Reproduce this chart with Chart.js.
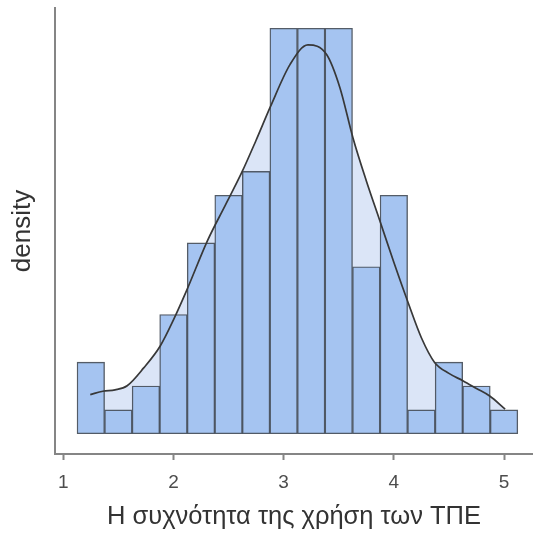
<!DOCTYPE html>
<html>
<head>
<meta charset="utf-8">
<script src="https://cdn.jsdelivr.net/npm/chart.js@4"></script>
<style>
  html, body { margin: 0; padding: 0; background: #fff; overflow: hidden; }
  #wrap { width: 533px; height: 536px; }
</style>
</head>
<body>
<div id="wrap"><canvas id="chart"></canvas></div>
<script>
// histogram bins (centres) and counts per bin
const binCenters = [1.25, 1.5, 1.75, 2.0, 2.25, 2.5, 2.75, 3.0, 3.25, 3.5, 3.75, 4.0, 4.25, 4.5, 4.75, 5.0];
const binCounts = [3, 1, 2, 5, 8, 10, 11, 17, 17, 17, 7, 10, 1, 3, 2, 1];
const binWidth = 0.25;

// kernel density curve
const kdeX = [1.245, 1.36, 1.47, 1.58, 1.73, 1.88, 2.0, 2.12, 2.31, 2.47, 2.62, 2.75, 2.88, 3.06, 3.22, 3.39, 3.51, 3.63, 3.75, 3.87, 4.0, 4.13, 4.25, 4.37, 4.5, 4.63, 4.75, 4.87, 5.01];
const kdeY = [0.057, 0.062, 0.064, 0.070, 0.096, 0.128, 0.166, 0.209, 0.282, 0.333, 0.381, 0.428, 0.477, 0.539, 0.567, 0.553, 0.505, 0.431, 0.369, 0.312, 0.250, 0.191, 0.140, 0.104, 0.088, 0.077, 0.066, 0.055, 0.036];

const xTicks = [1, 2, 3, 4, 5];

const total = binCounts.reduce((a, b) => a + b, 0);
const density = binCounts.map((c) => c / (total * binWidth));
const unit = 1 / (total * binWidth);

const axisColor = "#858585";
const fontFamily = "'Liberation Sans', Arial, sans-serif";

new Chart(document.getElementById("chart"), {
  data: {
    datasets: [
      {
        type: "line",
        label: "kde",
        data: kdeX.map((x, i) => ({ x: x, y: kdeY[i] })),
        borderColor: "#383838",
        borderWidth: 1.7,
        backgroundColor: "#dbe5f7",
        fill: "origin",
        pointRadius: 0,
        cubicInterpolationMode: "monotone",
        order: 0,
      },
      {
        type: "bar",
        label: "count",
        data: binCenters.map((x, i) => ({ x: x, y: density[i] })),
        backgroundColor: "#a5c4f1",
        borderColor: "rgba(65, 74, 86, 0.9)",
        borderWidth: 1.4,
        borderSkipped: false,
        barPercentage: 1,
        categoryPercentage: 1,
        grouped: false,
        order: 1,
      },
    ],
  },
  options: {
    responsive: true,
    maintainAspectRatio: false,
    animation: false,
    layout: { padding: { top: 8, right: 0, bottom: 0, left: 0 } },
    plugins: {
      legend: { display: false },
      tooltip: { enabled: false },
      filler: { drawTime: "beforeDatasetsDraw" },
    },
    scales: {
      x: {
        type: "linear",
        offset: false,
        min: 0.925,
        max: 5.263,
        afterBuildTicks: (scale) => {
          scale.ticks = xTicks.map((v) => ({ value: v }));
        },
        afterFit: (scale) => {
          scale.height = 82;
        },
        grid: {
          offset: false,
          drawOnChartArea: false,
          drawTicks: true,
          tickLength: 6,
          tickWidth: 2,
          tickColor: axisColor,
        },
        border: { display: true, color: axisColor, width: 2 },
        ticks: {
          color: "#4d4d4d",
          padding: 11,
          maxRotation: 0,
          font: { family: fontFamily, size: 19 },
        },
        title: {
          display: true,
          text: "Η συχνότητα της χρήση των ΤΠΕ",
          color: "#333333",
          font: { family: fontFamily, size: 25.5 },
          padding: { top: 0, bottom: 4 },
        },
      },
      y: {
        type: "linear",
        min: -0.85 * unit,
        max: 17.85 * unit,
        afterFit: (scale) => {
          scale.width = 55;
        },
        grid: { display: false, drawTicks: false },
        border: { display: true, color: axisColor, width: 2 },
        ticks: { display: false },
        title: {
          display: true,
          text: "density",
          color: "#333333",
          font: { family: fontFamily, size: 26 },
          padding: { top: 7, bottom: 0 },
        },
      },
    },
  },
});
</script>
</body>
</html>
